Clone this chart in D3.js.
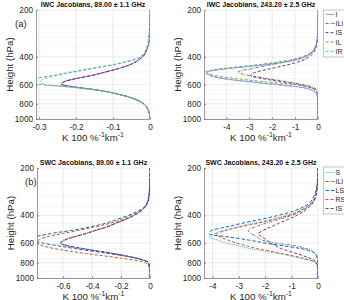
<!DOCTYPE html>
<html lang="en">
<head>
<meta charset="UTF-8">
<title>IWC / SWC Jacobians</title>
<script src="https://cdnjs.cloudflare.com/ajax/libs/d3/7.8.5/d3.min.js"></script>
<style>
  html, body { margin: 0; padding: 0; background: #fff; }
  svg { display: block; font-family: "Liberation Sans", Arial, sans-serif; }
  .grid line { stroke: #dcdcdc; stroke-width: 0.6; }
  .grid line.minor { stroke: #efefef; }
  .axis path, .axis line { stroke: #5a5a5a; stroke-width: 0.6; }
  .axis text { fill: #262626; font-size: 8.2px; }
  .legend text { fill: #262626; font-size: 7px; }
</style>
</head>
<body>
<div id="chart"></div>
<script>
var WIDTH = 344;
var HEIGHT = 300;

// pressure levels (hPa) shared by every curve
var pressure = [200, 250, 300, 350, 400, 425, 450, 475, 500, 525, 550, 575, 600, 625, 650, 700, 750, 800, 900, 1000];
var yTicks = [200, 400, 600, 800, 1000];
var yMinor = [250, 300, 350, 450, 500, 550, 650, 700, 750, 850, 900, 950];

var iwcNames = ['I', 'ILI', 'IS', 'IL', 'IR'];
var swcNames = ['S', 'ILI', 'LS', 'RS', 'IS'];

// IWC Jacobians, 89 GHz (rows follow iwcNames)
var iwc89 = [
    [0, -0.001, -0.002, -0.007, -0.021, -0.036, -0.056, -0.086, -0.122, -0.157, -0.2, -0.232, -0.24, -0.202, -0.146, -0.079, -0.038, -0.017, -0.003, 0],
    [0, -0.001, -0.002, -0.007, -0.02, -0.035, -0.055, -0.085, -0.12, -0.155, -0.199, -0.23, -0.238, -0.2, -0.145, -0.078, -0.038, -0.017, -0.003, 0],
    [0, -0.001, -0.002, -0.007, -0.02, -0.035, -0.055, -0.085, -0.12, -0.155, -0.2, -0.23, -0.24, -0.2, -0.145, -0.078, -0.038, -0.017, -0.003, 0],
    [0, -0.001, -0.003, -0.009, -0.027, -0.06, -0.105, -0.16, -0.215, -0.26, -0.31, -0.335, -0.3, -0.215, -0.15, -0.08, -0.04, -0.018, -0.004, 0],
    [0, -0.001, -0.003, -0.008, -0.025, -0.055, -0.1, -0.155, -0.205, -0.25, -0.285, -0.295, -0.285, -0.21, -0.148, -0.078, -0.038, -0.017, -0.003, 0]
];

// IWC Jacobians, 243 GHz
var iwc243 = [
    [0, -0.005, -0.03, -0.12, -0.55, -1.2, -2.4, -3.9, -4.85, -4.7, -4.15, -3.05, -1.85, -0.75, -0.28, -0.05, -0.01, 0, 0, 0],
    [0, -0.005, -0.03, -0.13, -0.65, -1.25, -2.1, -2.9, -3.5, -3.05, -2.2, -1.4, -0.7, -0.22, -0.06, -0.01, 0, 0, 0, 0],
    [0, -0.004, -0.02, -0.09, -0.4, -0.75, -1.35, -2.05, -2.7, -2.95, -2.45, -1.65, -0.95, -0.4, -0.12, -0.02, 0, 0, 0, 0],
    [0, -0.005, -0.03, -0.14, -0.7, -1.5, -2.7, -4.2, -4.85, -4.55, -3.6, -2.4, -1.05, -0.3, -0.08, -0.01, 0, 0, 0, 0],
    [0, -0.005, -0.03, -0.13, -0.6, -1.3, -2.5, -4.0, -4.95, -4.75, -4.2, -3.1, -1.9, -0.8, -0.3, -0.05, -0.01, 0, 0, 0]
];

// SWC Jacobians, 89 GHz (rows follow swcNames)
var swc89 = [
    [0, -0.002, -0.006, -0.03, -0.115, -0.175, -0.245, -0.31, -0.39, -0.46, -0.54, -0.6, -0.61, -0.56, -0.46, -0.25, -0.09, -0.012, 0, 0],
    [0, -0.002, -0.006, -0.03, -0.11, -0.17, -0.24, -0.3, -0.38, -0.45, -0.53, -0.59, -0.615, -0.565, -0.465, -0.25, -0.088, -0.01, 0, 0],
    [0, -0.002, -0.008, -0.035, -0.15, -0.23, -0.31, -0.42, -0.55, -0.7, -0.79, -0.8, -0.74, -0.63, -0.52, -0.28, -0.09, -0.01, 0, 0],
    [0, -0.002, -0.007, -0.03, -0.13, -0.2, -0.28, -0.39, -0.5, -0.62, -0.72, -0.77, -0.78, -0.74, -0.66, -0.44, -0.19, -0.03, 0, 0],
    [0, -0.002, -0.006, -0.03, -0.11, -0.17, -0.24, -0.3, -0.38, -0.45, -0.53, -0.59, -0.62, -0.57, -0.47, -0.25, -0.09, -0.01, 0, 0]
];

// SWC Jacobians, 243 GHz
var swc243 = [
    [0, -0.02, -0.1, -0.4, -1.2, -1.8, -2.5, -3.1, -3.6, -3.95, -4.1, -3.8, -3.5, -3.0, -2.6, -1.5, -0.65, -0.08, 0, 0],
    [0, -0.02, -0.09, -0.35, -1.0, -1.5, -2.0, -2.4, -2.65, -2.5, -2.3, -2.1, -1.6, -0.85, -0.45, -0.12, -0.03, 0, 0, 0],
    [0, -0.03, -0.15, -0.5, -1.5, -2.2, -2.9, -3.5, -4.05, -4.12, -3.35, -2.6, -2.0, -1.3, -0.65, -0.1, -0.02, 0, 0, 0],
    [0, -0.02, -0.1, -0.4, -1.1, -1.7, -2.3, -3.0, -3.5, -3.85, -3.7, -3.4, -3.1, -2.7, -2.3, -1.35, -0.55, -0.08, 0, 0],
    [0, -0.015, -0.07, -0.3, -0.8, -1.15, -1.5, -1.8, -2.1, -2.26, -2.1, -1.95, -1.8, -1.6, -1.4, -0.8, -0.3, -0.05, 0, 0]
];

var xTicks89Iwc = [-0.3, -0.2, -0.1, 0];
var xTicks89Swc = [-0.6, -0.4, -0.2, 0];
var xTicks243 = [-4, -3, -2, -1, 0];

var styles = {
    I:   { color: '#c27ee0', dash: null },
    ILI: { color: '#707070', dash: '3,1.2,0.8,1.2' },
    IS:  { color: '#7e2f8e', dash: '3,2' },
    IL:  { color: '#77ac30', dash: '3,2' },
    IR:  { color: '#4dbeee', dash: '3,2' },
    S:   { color: '#4aa3dc', dash: '1,1.1' },
    LS:  { color: '#0072bd', dash: '3.5,2' },
    RS:  { color: '#d95319', dash: '3,2' }
};

var panels = [
    { title: 'IWC Jacobians, 89.00 \u00b1 1.1 GHz', names: iwcNames, values: iwc89, xMin: -0.308,
      xTicks: xTicks89Iwc, left: 36, top: 10, width: 114, height: 109, xLabelDy: 21.5,
      tag: '(a)', tagX: 15, legend: null },
    { title: 'IWC Jacobians, 243.20 \u00b1 2.5 GHz', names: iwcNames, values: iwc243, xMin: -4.98,
      xTicks: xTicks243, left: 204, top: 10, width: 114, height: 109, xLabelDy: 21.5, tag: null,
      legend: { x: 323.5, y: 10, h: 47, rows: [14.3, 23.4, 32.7, 42, 51.3] } },
    { title: 'SWC Jacobians, 89.00 \u00b1 1.1 GHz', names: swcNames, values: swc89, xMin: -0.78,
      xTicks: xTicks89Swc, left: 37, top: 168, width: 113, height: 110, xLabelDy: 21.5,
      tag: '(b)', tagX: 25, legend: null },
    { title: 'SWC Jacobians, 243.20 \u00b1 2.5 GHz', names: swcNames, values: swc243, xMin: -4.32,
      xTicks: xTicks243, left: 204, top: 168, width: 114, height: 110, xLabelDy: 21.5, tag: null,
      legend: { x: 323.5, y: 167, h: 47, rows: [172.5, 181.5, 190.5, 199.5, 208.5] } }
];

var svg = d3.select('#chart').append('svg')
    .attr('width', WIDTH)
    .attr('height', HEIGHT);

var defs = svg.append('defs');

var tickFmt = function (d) { return d === 0 ? '0' : String(d); };

panels.forEach(function (p, i) {
    var x = d3.scaleLinear().domain([p.xMin, 0]).range([0, p.width]);
    var y = d3.scaleLog().domain([200, 1000]).range([0, p.height]);

    defs.append('clipPath').attr('id', 'clip' + i)
        .append('rect')
        .attr('width', p.width)
        .attr('height', p.height);

    var g = svg.append('g')
        .attr('transform', 'translate(' + p.left + ',' + p.top + ')');

    // grid
    var grid = g.append('g').attr('class', 'grid');
    grid.selectAll('line.minor').data(yMinor).enter().append('line')
        .attr('class', 'minor')
        .attr('x1', 0).attr('x2', p.width)
        .attr('y1', function (d) { return y(d); })
        .attr('y2', function (d) { return y(d); });
    grid.selectAll('line.hmajor').data(yTicks).enter().append('line')
        .attr('class', 'hmajor')
        .attr('x1', 0).attr('x2', p.width)
        .attr('y1', function (d) { return y(d); })
        .attr('y2', function (d) { return y(d); });
    grid.selectAll('line.vmajor').data(p.xTicks).enter().append('line')
        .attr('class', 'vmajor')
        .attr('y1', 0).attr('y2', p.height)
        .attr('x1', function (d) { return x(d); })
        .attr('x2', function (d) { return x(d); });

    // curves
    var line = d3.line()
        .x(function (d) { return x(d[0]); })
        .y(function (d) { return y(d[1]); })
        .curve(d3.curveMonotoneY);

    var curves = g.append('g').attr('clip-path', 'url(#clip' + i + ')');
    p.values.forEach(function (vals, k) {
        var st = styles[p.names[k]];
        curves.append('path')
            .datum(vals.map(function (v, j) { return [v, pressure[j]]; }))
            .attr('d', line)
            .attr('fill', 'none')
            .attr('stroke', st.color)
            .attr('stroke-width', 1)
            .attr('stroke-dasharray', st.dash);
    });

    // axes
    g.append('g')
        .attr('class', 'axis')
        .attr('transform', 'translate(0,' + p.height + ')')
        .call(d3.axisBottom(x).tickValues(p.xTicks).tickFormat(tickFmt)
            .tickSizeInner(-2).tickSizeOuter(0).tickPadding(5));

    g.append('g')
        .attr('class', 'axis')
        .call(d3.axisLeft(y).tickValues(yTicks).tickFormat(d3.format('d'))
            .tickSizeInner(-2).tickSizeOuter(0).tickPadding(3));

    // title
    g.append('text')
        .attr('x', p.width / 2)
        .attr('y', -2.6)
        .attr('text-anchor', 'middle')
        .attr('font-size', '7px')
        .attr('font-weight', 'bold')
        .attr('fill', '#111')
        .text(p.title);

    // y label
    g.append('text')
        .attr('transform', 'translate(-23,' + (p.height / 2) + ') rotate(-90)')
        .attr('text-anchor', 'middle')
        .attr('font-size', '9.7px')
        .attr('fill', '#262626')
        .text('Height (hPa)');

    // x label
    var xl = g.append('text')
        .attr('x', p.width / 2)
        .attr('y', p.height + p.xLabelDy)
        .attr('text-anchor', 'middle')
        .attr('font-size', '9.7px')
        .attr('fill', '#262626');
    xl.append('tspan').text('K 100 %');
    xl.append('tspan').attr('dy', -3.5).attr('font-size', '7px').text('-1');
    xl.append('tspan').attr('dy', 3.5).text('km');
    xl.append('tspan').attr('dy', -3.5).attr('font-size', '7px').text('-1');

    if (p.tag) {
        svg.append('text')
            .attr('x', p.tagX)
            .attr('y', p.top + 17)
            .attr('font-size', '9.5px')
            .attr('fill', '#262626')
            .text(p.tag);
    }

    if (p.legend) {
        var lg = svg.append('g').attr('class', 'legend');
        lg.append('rect')
            .attr('x', p.legend.x)
            .attr('y', p.legend.y)
            .attr('width', 40)
            .attr('height', p.legend.h)
            .attr('fill', '#fff')
            .attr('stroke', '#9a9a9a')
            .attr('stroke-width', 0.6);
        p.names.forEach(function (name, k) {
            var st = styles[name];
            var ry = p.legend.rows[k];
            lg.append('line')
                .attr('x1', p.legend.x + 2).attr('x2', p.legend.x + 11)
                .attr('y1', ry).attr('y2', ry)
                .attr('stroke', st.color)
                .attr('stroke-width', 1)
                .attr('stroke-dasharray', st.dash);
            lg.append('text')
                .attr('x', p.legend.x + 12)
                .attr('y', ry + 2.5)
                .text(name);
        });
    }
});
</script>
</body>
</html>
